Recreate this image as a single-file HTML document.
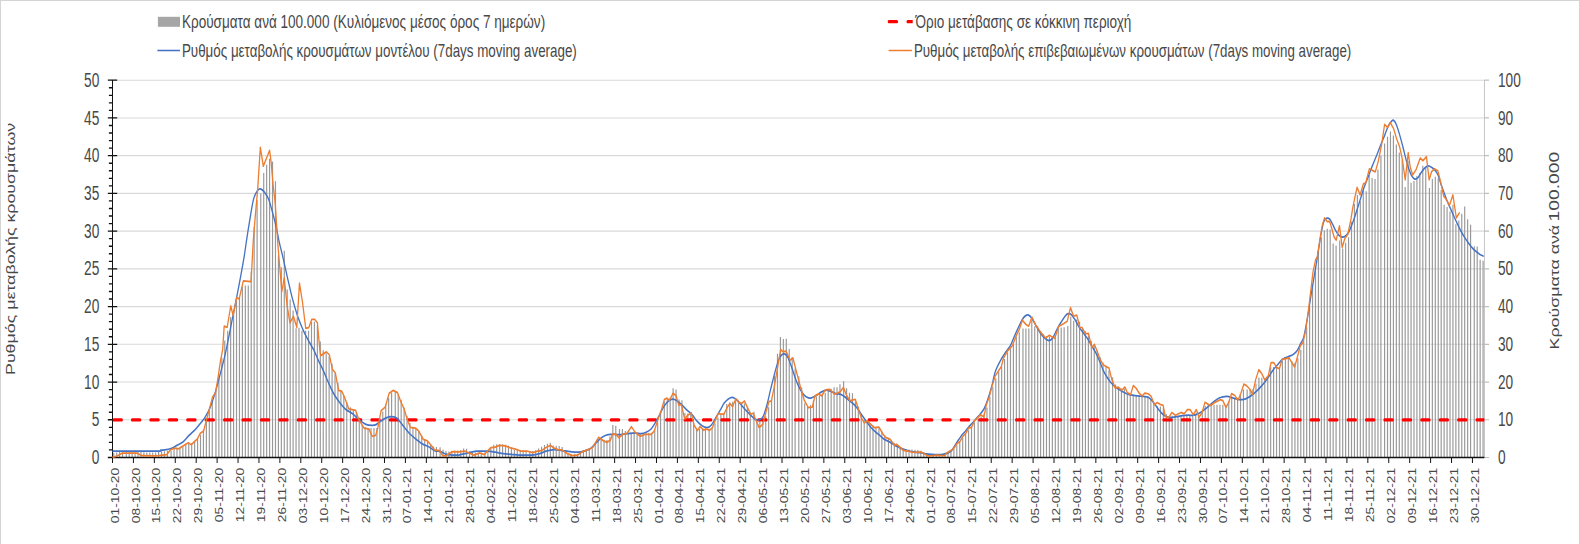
<!DOCTYPE html>
<html><head><meta charset="utf-8"><title>chart</title>
<style>html,body{margin:0;padding:0;background:#fff;}body{width:1579px;height:544px;overflow:hidden;font-family:"Liberation Sans",sans-serif;}svg{display:block;}</style>
</head><body>
<svg width="1579" height="544" viewBox="0 0 1579 544">
<rect x="0" y="0" width="1579" height="544" fill="#fff"/>
<rect x="0" y="0" width="1579" height="1" fill="#d4d4d4"/>
<rect x="0" y="0" width="1" height="544" fill="#d4d4d4"/>
<path d="M112.5 419.77H1484.4M112.5 382.04H1484.4M112.5 344.31H1484.4M112.5 306.58H1484.4M112.5 268.85H1484.4M112.5 231.12H1484.4M112.5 193.39H1484.4M112.5 155.66H1484.4M112.5 117.93H1484.4M112.5 80.20H1484.4" stroke="#d9d9d9" stroke-width="1.1" fill="none"/>
<path transform="scale(0.735,1)" d="M154 457.5V452.8h1.58V457.5zM158 457.5V452.4h1.58V457.5zM162 457.5V452.0h1.58V457.5zM166 457.5V451.7h1.58V457.5zM171 457.5V451.3h1.58V457.5zM175 457.5V451.0h1.58V457.5zM179 457.5V450.9h1.58V457.5zM183 457.5V450.8h1.58V457.5zM187 457.5V451.1h1.58V457.5zM191 457.5V451.8h1.58V457.5zM195 457.5V452.3h1.58V457.5zM199 457.5V452.4h1.58V457.5zM203 457.5V452.5h1.58V457.5zM207 457.5V452.5h1.58V457.5zM211 457.5V452.4h1.58V457.5zM215 457.5V452.0h1.58V457.5zM219 457.5V451.7h1.58V457.5zM223 457.5V451.2h1.58V457.5zM227 457.5V450.7h1.58V457.5zM232 457.5V451.0h1.58V457.5zM236 457.5V449.0h1.58V457.5zM240 457.5V448.5h1.58V457.5zM244 457.5V447.9h1.58V457.5zM248 457.5V446.5h1.58V457.5zM252 457.5V444.7h1.58V457.5zM256 457.5V443.9h1.58V457.5zM260 457.5V443.3h1.58V457.5zM264 457.5V442.0h1.58V457.5zM268 457.5V438.5h1.58V457.5zM272 457.5V434.8h1.58V457.5zM276 457.5V429.5h1.58V457.5zM280 457.5V421.7h1.58V457.5zM284 457.5V410.7h1.58V457.5zM288 457.5V400.9h1.58V457.5zM293 457.5V390.9h1.58V457.5zM297 457.5V377.3h1.58V457.5zM301 457.5V357.5h1.58V457.5zM305 457.5V340.5h1.58V457.5zM309 457.5V330.7h1.58V457.5zM313 457.5V317.1h1.58V457.5zM317 457.5V311.9h1.58V457.5zM321 457.5V302.1h1.58V457.5zM325 457.5V296.8h1.58V457.5zM329 457.5V286.5h1.58V457.5zM333 457.5V285.5h1.58V457.5zM337 457.5V285.5h1.58V457.5zM341 457.5V271.6h1.58V457.5zM345 457.5V227.3h1.58V457.5zM349 457.5V200.2h1.58V457.5zM354 457.5V193.4h1.58V457.5zM358 457.5V172.9h1.58V457.5zM362 457.5V164.8h1.58V457.5zM366 457.5V158.8h1.58V457.5zM370 457.5V161.4h1.58V457.5zM374 457.5V181.3h1.58V457.5zM378 457.5V255.3h1.58V457.5zM382 457.5V267.2h1.58V457.5zM386 457.5V250.7h1.58V457.5zM390 457.5V289.6h1.58V457.5zM394 457.5V299.4h1.58V457.5zM398 457.5V310.4h1.58V457.5zM402 457.5V328.2h1.58V457.5zM406 457.5V327.7h1.58V457.5zM410 457.5V330.7h1.58V457.5zM415 457.5V330.7h1.58V457.5zM419 457.5V330.7h1.58V457.5zM423 457.5V321.7h1.58V457.5zM427 457.5V321.7h1.58V457.5zM431 457.5V325.4h1.58V457.5zM435 457.5V341.4h1.58V457.5zM439 457.5V350.3h1.58V457.5zM443 457.5V353.4h1.58V457.5zM447 457.5V356.3h1.58V457.5zM451 457.5V363.7h1.58V457.5zM455 457.5V373.4h1.58V457.5zM459 457.5V382.7h1.58V457.5zM463 457.5V390.3h1.58V457.5zM467 457.5V395.6h1.58V457.5zM471 457.5V402.2h1.58V457.5zM476 457.5V407.3h1.58V457.5zM480 457.5V409.6h1.58V457.5zM484 457.5V412.3h1.58V457.5zM488 457.5V417.4h1.58V457.5zM492 457.5V425.1h1.58V457.5zM496 457.5V427.1h1.58V457.5zM500 457.5V428.1h1.58V457.5zM504 457.5V428.1h1.58V457.5zM508 457.5V428.1h1.58V457.5zM512 457.5V428.1h1.58V457.5zM516 457.5V422.8h1.58V457.5zM520 457.5V411.5h1.58V457.5zM524 457.5V404.6h1.58V457.5zM528 457.5V398.0h1.58V457.5zM532 457.5V392.6h1.58V457.5zM537 457.5V391.5h1.58V457.5zM541 457.5V394.2h1.58V457.5zM545 457.5V399.8h1.58V457.5zM549 457.5V407.4h1.58V457.5zM553 457.5V415.7h1.58V457.5zM557 457.5V423.1h1.58V457.5zM561 457.5V427.0h1.58V457.5zM565 457.5V428.6h1.58V457.5zM569 457.5V431.2h1.58V457.5zM573 457.5V435.4h1.58V457.5zM577 457.5V438.9h1.58V457.5zM581 457.5V441.4h1.58V457.5zM585 457.5V444.2h1.58V457.5zM589 457.5V446.4h1.58V457.5zM593 457.5V446.9h1.58V457.5zM598 457.5V447.3h1.58V457.5zM602 457.5V449.6h1.58V457.5zM606 457.5V451.0h1.58V457.5zM610 457.5V451.6h1.58V457.5zM614 457.5V451.0h1.58V457.5zM618 457.5V450.6h1.58V457.5zM622 457.5V450.5h1.58V457.5zM626 457.5V450.3h1.58V457.5zM630 457.5V448.4h1.58V457.5zM634 457.5V448.8h1.58V457.5zM638 457.5V451.5h1.58V457.5zM642 457.5V452.2h1.58V457.5zM646 457.5V452.6h1.58V457.5zM650 457.5V452.6h1.58V457.5zM654 457.5V452.6h1.58V457.5zM659 457.5V452.6h1.58V457.5zM663 457.5V450.5h1.58V457.5zM667 457.5V447.2h1.58V457.5zM671 457.5V444.7h1.58V457.5zM675 457.5V444.3h1.58V457.5zM679 457.5V443.9h1.58V457.5zM683 457.5V444.3h1.58V457.5zM687 457.5V444.7h1.58V457.5zM691 457.5V445.7h1.58V457.5zM695 457.5V447.4h1.58V457.5zM699 457.5V450.0h1.58V457.5zM703 457.5V450.3h1.58V457.5zM707 457.5V450.6h1.58V457.5zM711 457.5V450.8h1.58V457.5zM715 457.5V450.9h1.58V457.5zM720 457.5V450.9h1.58V457.5zM724 457.5V451.0h1.58V457.5zM728 457.5V450.2h1.58V457.5zM732 457.5V448.4h1.58V457.5zM736 457.5V446.7h1.58V457.5zM740 457.5V445.1h1.58V457.5zM744 457.5V443.7h1.58V457.5zM748 457.5V442.7h1.58V457.5zM752 457.5V445.4h1.58V457.5zM756 457.5V445.7h1.58V457.5zM760 457.5V446.0h1.58V457.5zM764 457.5V447.1h1.58V457.5zM768 457.5V451.5h1.58V457.5zM772 457.5V453.7h1.58V457.5zM776 457.5V453.7h1.58V457.5zM781 457.5V453.7h1.58V457.5zM785 457.5V453.7h1.58V457.5zM789 457.5V452.2h1.58V457.5zM793 457.5V450.3h1.58V457.5zM797 457.5V449.6h1.58V457.5zM801 457.5V449.0h1.58V457.5zM805 457.5V448.4h1.58V457.5zM809 457.5V443.2h1.58V457.5zM813 457.5V439.4h1.58V457.5zM817 457.5V439.6h1.58V457.5zM821 457.5V439.8h1.58V457.5zM825 457.5V440.0h1.58V457.5zM829 457.5V436.4h1.58V457.5zM833 457.5V425.1h1.58V457.5zM837 457.5V425.8h1.58V457.5zM842 457.5V429.1h1.58V457.5zM846 457.5V429.1h1.58V457.5zM850 457.5V430.9h1.58V457.5zM854 457.5V432.7h1.58V457.5zM858 457.5V432.9h1.58V457.5zM862 457.5V433.1h1.58V457.5zM866 457.5V433.3h1.58V457.5zM870 457.5V433.3h1.58V457.5zM874 457.5V433.1h1.58V457.5zM878 457.5V433.0h1.58V457.5zM882 457.5V432.8h1.58V457.5zM886 457.5V432.7h1.58V457.5zM890 457.5V429.3h1.58V457.5zM894 457.5V422.1h1.58V457.5zM898 457.5V413.1h1.58V457.5zM903 457.5V400.9h1.58V457.5zM907 457.5V398.6h1.58V457.5zM911 457.5V397.6h1.58V457.5zM915 457.5V388.2h1.58V457.5zM919 457.5V389.6h1.58V457.5zM923 457.5V399.4h1.58V457.5zM927 457.5V400.2h1.58V457.5zM931 457.5V413.0h1.58V457.5zM935 457.5V413.4h1.58V457.5zM939 457.5V413.7h1.58V457.5zM943 457.5V422.8h1.58V457.5zM947 457.5V428.8h1.58V457.5zM951 457.5V428.8h1.58V457.5zM955 457.5V428.8h1.58V457.5zM959 457.5V428.8h1.58V457.5zM964 457.5V428.8h1.58V457.5zM968 457.5V428.0h1.58V457.5zM972 457.5V423.3h1.58V457.5zM976 457.5V417.5h1.58V457.5zM980 457.5V414.5h1.58V457.5zM984 457.5V413.1h1.58V457.5zM988 457.5V403.9h1.58V457.5zM992 457.5V402.4h1.58V457.5zM996 457.5V401.7h1.58V457.5zM1000 457.5V400.9h1.58V457.5zM1004 457.5V401.8h1.58V457.5zM1008 457.5V402.6h1.58V457.5zM1012 457.5V403.5h1.58V457.5zM1016 457.5V407.1h1.58V457.5zM1020 457.5V411.8h1.58V457.5zM1025 457.5V411.8h1.58V457.5zM1029 457.5V418.9h1.58V457.5zM1033 457.5V421.3h1.58V457.5zM1037 457.5V420.1h1.58V457.5zM1041 457.5V416.2h1.58V457.5zM1045 457.5V407.3h1.58V457.5zM1049 457.5V398.9h1.58V457.5zM1053 457.5V376.0h1.58V457.5zM1057 457.5V353.7h1.58V457.5zM1061 457.5V337.0h1.58V457.5zM1065 457.5V338.9h1.58V457.5zM1069 457.5V338.8h1.58V457.5zM1073 457.5V348.9h1.58V457.5zM1077 457.5V357.1h1.58V457.5zM1081 457.5V368.5h1.58V457.5zM1086 457.5V376.3h1.58V457.5zM1090 457.5V387.4h1.58V457.5zM1094 457.5V403.2h1.58V457.5zM1098 457.5V406.2h1.58V457.5zM1102 457.5V405.0h1.58V457.5zM1106 457.5V400.3h1.58V457.5zM1110 457.5V396.6h1.58V457.5zM1114 457.5V395.6h1.58V457.5zM1118 457.5V394.6h1.58V457.5zM1122 457.5V393.0h1.58V457.5zM1126 457.5V390.7h1.58V457.5zM1130 457.5V388.7h1.58V457.5zM1134 457.5V387.3h1.58V457.5zM1138 457.5V387.3h1.58V457.5zM1142 457.5V384.3h1.58V457.5zM1147 457.5V381.3h1.58V457.5zM1151 457.5V388.3h1.58V457.5zM1155 457.5V392.8h1.58V457.5zM1159 457.5V393.3h1.58V457.5zM1163 457.5V401.4h1.58V457.5zM1167 457.5V406.5h1.58V457.5zM1171 457.5V414.4h1.58V457.5zM1175 457.5V419.9h1.58V457.5zM1179 457.5V421.9h1.58V457.5zM1183 457.5V423.2h1.58V457.5zM1187 457.5V425.6h1.58V457.5zM1191 457.5V427.0h1.58V457.5zM1195 457.5V428.4h1.58V457.5zM1199 457.5V431.3h1.58V457.5zM1203 457.5V435.3h1.58V457.5zM1208 457.5V437.9h1.58V457.5zM1212 457.5V440.3h1.58V457.5zM1216 457.5V442.8h1.58V457.5zM1220 457.5V445.0h1.58V457.5zM1224 457.5V447.7h1.58V457.5zM1228 457.5V449.2h1.58V457.5zM1232 457.5V449.3h1.58V457.5zM1236 457.5V449.5h1.58V457.5zM1240 457.5V449.6h1.58V457.5zM1244 457.5V449.7h1.58V457.5zM1248 457.5V449.9h1.58V457.5zM1252 457.5V450.7h1.58V457.5zM1256 457.5V452.2h1.58V457.5zM1260 457.5V454.0h1.58V457.5zM1264 457.5V454.0h1.58V457.5zM1269 457.5V454.0h1.58V457.5zM1273 457.5V454.0h1.58V457.5zM1277 457.5V454.0h1.58V457.5zM1281 457.5V454.0h1.58V457.5zM1285 457.5V453.1h1.58V457.5zM1289 457.5V453.1h1.58V457.5zM1293 457.5V450.9h1.58V457.5zM1297 457.5V448.4h1.58V457.5zM1301 457.5V445.3h1.58V457.5zM1305 457.5V441.7h1.58V457.5zM1309 457.5V438.0h1.58V457.5zM1313 457.5V433.8h1.58V457.5zM1317 457.5V430.2h1.58V457.5zM1321 457.5V426.4h1.58V457.5zM1325 457.5V422.6h1.58V457.5zM1330 457.5V418.5h1.58V457.5zM1334 457.5V416.5h1.58V457.5zM1338 457.5V413.6h1.58V457.5zM1342 457.5V407.4h1.58V457.5zM1346 457.5V397.1h1.58V457.5zM1350 457.5V387.1h1.58V457.5zM1354 457.5V378.2h1.58V457.5zM1358 457.5V372.0h1.58V457.5zM1362 457.5V365.7h1.58V457.5zM1366 457.5V358.9h1.58V457.5zM1370 457.5V352.6h1.58V457.5zM1374 457.5V348.4h1.58V457.5zM1378 457.5V343.4h1.58V457.5zM1382 457.5V337.1h1.58V457.5zM1386 457.5V332.2h1.58V457.5zM1391 457.5V328.5h1.58V457.5zM1395 457.5V328.5h1.58V457.5zM1399 457.5V328.5h1.58V457.5zM1403 457.5V320.2h1.58V457.5zM1407 457.5V326.2h1.58V457.5zM1411 457.5V326.3h1.58V457.5zM1415 457.5V330.8h1.58V457.5zM1419 457.5V334.6h1.58V457.5zM1423 457.5V336.3h1.58V457.5zM1427 457.5V336.6h1.58V457.5zM1431 457.5V336.8h1.58V457.5zM1435 457.5V335.2h1.58V457.5zM1439 457.5V328.8h1.58V457.5zM1443 457.5V327.6h1.58V457.5zM1447 457.5V327.2h1.58V457.5zM1452 457.5V325.9h1.58V457.5zM1456 457.5V316.8h1.58V457.5zM1460 457.5V320.8h1.58V457.5zM1464 457.5V319.4h1.58V457.5zM1468 457.5V321.8h1.58V457.5zM1472 457.5V327.8h1.58V457.5zM1476 457.5V331.2h1.58V457.5zM1480 457.5V335.5h1.58V457.5zM1484 457.5V340.9h1.58V457.5zM1488 457.5V346.1h1.58V457.5zM1492 457.5V350.4h1.58V457.5zM1496 457.5V357.1h1.58V457.5zM1500 457.5V362.8h1.58V457.5zM1504 457.5V366.0h1.58V457.5zM1508 457.5V370.2h1.58V457.5zM1513 457.5V377.2h1.58V457.5zM1517 457.5V384.4h1.58V457.5zM1521 457.5V387.7h1.58V457.5zM1525 457.5V388.6h1.58V457.5zM1529 457.5V389.1h1.58V457.5zM1533 457.5V394.3h1.58V457.5zM1537 457.5V394.5h1.58V457.5zM1541 457.5V394.8h1.58V457.5zM1545 457.5V395.1h1.58V457.5zM1549 457.5V395.4h1.58V457.5zM1553 457.5V395.7h1.58V457.5zM1557 457.5V396.0h1.58V457.5zM1561 457.5V396.2h1.58V457.5zM1565 457.5V398.6h1.58V457.5zM1569 457.5V403.2h1.58V457.5zM1574 457.5V406.2h1.58V457.5zM1578 457.5V406.6h1.58V457.5zM1582 457.5V407.6h1.58V457.5zM1586 457.5V414.0h1.58V457.5zM1590 457.5V416.0h1.58V457.5zM1594 457.5V415.8h1.58V457.5zM1598 457.5V415.7h1.58V457.5zM1602 457.5V415.6h1.58V457.5zM1606 457.5V415.4h1.58V457.5zM1610 457.5V415.3h1.58V457.5zM1614 457.5V415.1h1.58V457.5zM1618 457.5V415.0h1.58V457.5zM1622 457.5V414.8h1.58V457.5zM1626 457.5V414.7h1.58V457.5zM1630 457.5V414.6h1.58V457.5zM1635 457.5V411.5h1.58V457.5zM1639 457.5V406.1h1.58V457.5zM1643 457.5V405.1h1.58V457.5zM1647 457.5V404.7h1.58V457.5zM1651 457.5V404.7h1.58V457.5zM1655 457.5V404.7h1.58V457.5zM1659 457.5V404.7h1.58V457.5zM1663 457.5V404.7h1.58V457.5zM1667 457.5V404.7h1.58V457.5zM1671 457.5V400.9h1.58V457.5zM1675 457.5V397.9h1.58V457.5zM1679 457.5V397.9h1.58V457.5zM1683 457.5V397.9h1.58V457.5zM1687 457.5V394.9h1.58V457.5zM1691 457.5V389.6h1.58V457.5zM1696 457.5V389.6h1.58V457.5zM1700 457.5V389.6h1.58V457.5zM1704 457.5V389.0h1.58V457.5zM1708 457.5V383.5h1.58V457.5zM1712 457.5V377.5h1.58V457.5zM1716 457.5V377.8h1.58V457.5zM1720 457.5V378.0h1.58V457.5zM1724 457.5V378.3h1.58V457.5zM1728 457.5V366.9h1.58V457.5zM1732 457.5V366.9h1.58V457.5zM1736 457.5V366.9h1.58V457.5zM1740 457.5V366.9h1.58V457.5zM1744 457.5V360.9h1.58V457.5zM1748 457.5V359.0h1.58V457.5zM1752 457.5V359.0h1.58V457.5zM1757 457.5V361.2h1.58V457.5zM1761 457.5V362.7h1.58V457.5zM1765 457.5V358.3h1.58V457.5zM1769 457.5V349.7h1.58V457.5zM1773 457.5V340.6h1.58V457.5zM1777 457.5V327.5h1.58V457.5zM1781 457.5V307.2h1.58V457.5zM1785 457.5V284.4h1.58V457.5zM1789 457.5V266.3h1.58V457.5zM1793 457.5V251.3h1.58V457.5zM1797 457.5V237.2h1.58V457.5zM1801 457.5V230.2h1.58V457.5zM1805 457.5V228.8h1.58V457.5zM1809 457.5V229.6h1.58V457.5zM1813 457.5V243.5h1.58V457.5zM1817 457.5V245.5h1.58V457.5zM1822 457.5V240.4h1.58V457.5zM1826 457.5V248.6h1.58V457.5zM1830 457.5V242.7h1.58V457.5zM1834 457.5V237.2h1.58V457.5zM1838 457.5V221.7h1.58V457.5zM1842 457.5V204.0h1.58V457.5zM1846 457.5V195.1h1.58V457.5zM1850 457.5V201.6h1.58V457.5zM1854 457.5V187.5h1.58V457.5zM1858 457.5V191.2h1.58V457.5zM1862 457.5V175.1h1.58V457.5zM1866 457.5V178.0h1.58V457.5zM1870 457.5V178.9h1.58V457.5zM1874 457.5V169.4h1.58V457.5zM1878 457.5V155.7h1.58V457.5zM1883 457.5V143.6h1.58V457.5zM1887 457.5V136.8h1.58V457.5zM1891 457.5V131.5h1.58V457.5zM1895 457.5V135.5h1.58V457.5zM1899 457.5V144.6h1.58V457.5zM1903 457.5V152.6h1.58V457.5zM1907 457.5V159.7h1.58V457.5zM1911 457.5V186.9h1.58V457.5zM1915 457.5V160.9h1.58V457.5zM1919 457.5V182.8h1.58V457.5zM1923 457.5V180.9h1.58V457.5zM1927 457.5V176.0h1.58V457.5zM1931 457.5V173.0h1.58V457.5zM1935 457.5V165.8h1.58V457.5zM1939 457.5V167.7h1.58V457.5zM1944 457.5V188.1h1.58V457.5zM1948 457.5V179.1h1.58V457.5zM1952 457.5V176.8h1.58V457.5zM1956 457.5V178.3h1.58V457.5zM1960 457.5V189.9h1.58V457.5zM1964 457.5V204.7h1.58V457.5zM1968 457.5V207.0h1.58V457.5zM1972 457.5V211.5h1.58V457.5zM1976 457.5V204.7h1.58V457.5zM1980 457.5V224.3h1.58V457.5zM1984 457.5V220.6h1.58V457.5zM1988 457.5V213.8h1.58V457.5zM1992 457.5V206.5h1.58V457.5zM1996 457.5V219.3h1.58V457.5zM2000 457.5V224.8h1.58V457.5zM2005 457.5V246.2h1.58V457.5zM2009 457.5V246.6h1.58V457.5zM2013 457.5V259.8h1.58V457.5zM2017 457.5V260.8h1.58V457.5z" fill="#989898"/>
<g transform="scale(0.74,1)">
<path d="M2005.95 80.20V457.50M2005.95 457.50h6.22M2005.95 419.77h6.22M2005.95 382.04h6.22M2005.95 344.31h6.22M2005.95 306.58h6.22M2005.95 268.85h6.22M2005.95 231.12h6.22M2005.95 193.39h6.22M2005.95 155.66h6.22M2005.95 117.93h6.22M2005.95 80.20h6.22" stroke="#bfbfbf" stroke-width="1.2" fill="none"/>
<path d="M152.03 80.20V457.50M145.68 457.50H158.38M147.16 449.95H152.03M147.16 442.41H152.03M147.16 434.86H152.03M147.16 427.32H152.03M145.68 419.77H158.38M147.16 412.22H152.03M147.16 404.68H152.03M147.16 397.13H152.03M147.16 389.59H152.03M145.68 382.04H158.38M147.16 374.49H152.03M147.16 366.95H152.03M147.16 359.40H152.03M147.16 351.86H152.03M145.68 344.31H158.38M147.16 336.76H152.03M147.16 329.22H152.03M147.16 321.67H152.03M147.16 314.13H152.03M145.68 306.58H158.38M147.16 299.03H152.03M147.16 291.49H152.03M147.16 283.94H152.03M147.16 276.40H152.03M145.68 268.85H158.38M147.16 261.30H152.03M147.16 253.76H152.03M147.16 246.21H152.03M147.16 238.67H152.03M145.68 231.12H158.38M147.16 223.57H152.03M147.16 216.03H152.03M147.16 208.48H152.03M147.16 200.94H152.03M145.68 193.39H158.38M147.16 185.84H152.03M147.16 178.30H152.03M147.16 170.75H152.03M147.16 163.21H152.03M145.68 155.66H158.38M147.16 148.11H152.03M147.16 140.57H152.03M147.16 133.02H152.03M147.16 125.48H152.03M145.68 117.93H158.38M147.16 110.38H152.03M147.16 102.84H152.03M147.16 95.29H152.03M147.16 87.75H152.03M145.68 80.20H158.38M152.03 457.50H2005.95M152.03 457.50v5.4M180.30 457.50v5.4M208.57 457.50v5.4M236.85 457.50v5.4M265.12 457.50v5.4M293.39 457.50v5.4M321.67 457.50v5.4M349.94 457.50v5.4M378.21 457.50v5.4M406.49 457.50v5.4M434.76 457.50v5.4M463.03 457.50v5.4M491.31 457.50v5.4M519.58 457.50v5.4M547.85 457.50v5.4M576.13 457.50v5.4M604.40 457.50v5.4M632.67 457.50v5.4M660.95 457.50v5.4M689.22 457.50v5.4M717.49 457.50v5.4M745.77 457.50v5.4M774.04 457.50v5.4M802.31 457.50v5.4M830.59 457.50v5.4M858.86 457.50v5.4M887.13 457.50v5.4M915.41 457.50v5.4M943.68 457.50v5.4M971.95 457.50v5.4M1000.23 457.50v5.4M1028.50 457.50v5.4M1056.77 457.50v5.4M1085.05 457.50v5.4M1113.32 457.50v5.4M1141.59 457.50v5.4M1169.86 457.50v5.4M1198.14 457.50v5.4M1226.41 457.50v5.4M1254.68 457.50v5.4M1282.96 457.50v5.4M1311.23 457.50v5.4M1339.50 457.50v5.4M1367.78 457.50v5.4M1396.05 457.50v5.4M1424.32 457.50v5.4M1452.60 457.50v5.4M1480.87 457.50v5.4M1509.14 457.50v5.4M1537.42 457.50v5.4M1565.69 457.50v5.4M1593.96 457.50v5.4M1622.24 457.50v5.4M1650.51 457.50v5.4M1678.78 457.50v5.4M1707.06 457.50v5.4M1735.33 457.50v5.4M1763.60 457.50v5.4M1791.88 457.50v5.4M1820.15 457.50v5.4M1848.42 457.50v5.4M1876.70 457.50v5.4M1904.97 457.50v5.4M1933.24 457.50v5.4M1961.52 457.50v5.4M1989.79 457.50v5.4" stroke="#111111" stroke-width="1.33" fill="none"/>
<path d="M153.68 419.97H2005.95" stroke="#ff0000" stroke-width="3.3" stroke-linecap="round" stroke-dasharray="10.75 14.14" fill="none" clip-path="url(#pc)"/>
<path d="M152.70 451.16C162.53 451.16 200.90 451.32 211.67 451.16C222.43 451.00 215.50 450.38 217.32 450.18C219.14 449.98 220.28 450.23 222.57 449.95C224.86 449.68 228.29 449.27 231.05 448.52C233.81 447.77 236.37 446.55 239.13 445.43C241.89 444.31 244.85 443.50 247.61 441.80C250.37 440.11 252.99 437.28 255.68 435.24C258.38 433.20 261.00 431.78 263.76 429.58C266.52 427.38 269.95 424.17 272.24 422.03C274.53 419.90 275.47 419.27 277.49 416.75C279.51 414.24 282.07 411.15 284.36 406.94C286.65 402.73 289.14 396.63 291.22 391.47C293.31 386.32 295.06 381.10 296.88 376.00C298.69 370.91 300.65 365.31 302.13 360.91C303.61 356.51 303.74 356.76 305.76 349.59C307.78 342.42 311.42 328.46 314.24 317.90C317.07 307.33 320.17 296.14 322.72 286.21C325.28 276.27 327.84 265.96 329.59 258.29C331.34 250.61 331.95 246.34 333.22 240.18C334.50 234.01 335.71 228.10 337.26 221.31C338.81 214.52 340.70 204.58 342.51 199.43C344.33 194.27 346.55 192.13 348.17 190.37C349.78 188.61 350.59 188.49 352.21 188.86C353.82 189.24 356.04 190.87 357.86 192.64C359.68 194.40 361.29 195.91 363.11 199.43C364.93 202.95 366.95 208.73 368.76 213.76C370.58 218.79 372.60 224.96 374.01 229.61C375.43 234.26 375.97 237.41 377.24 241.68C378.52 245.96 379.80 249.23 381.69 255.27C383.57 261.30 386.33 270.74 388.55 277.91C390.77 285.07 392.73 291.87 395.01 298.28C397.30 304.69 399.93 311.23 402.28 316.39C404.64 321.55 406.93 325.44 409.15 329.22C411.37 332.99 413.19 335.63 415.61 339.03C418.03 342.42 421.26 346.07 423.69 349.59C426.11 353.11 427.93 356.64 430.15 360.16C432.37 363.68 434.79 367.07 437.01 370.72C439.24 374.37 441.19 378.27 443.48 382.04C445.76 385.81 448.19 389.96 450.74 393.36C453.30 396.75 456.13 399.77 458.82 402.41C461.51 405.06 463.94 407.32 466.90 409.21C469.86 411.09 473.56 411.97 476.59 413.73C479.62 415.49 482.11 418.01 485.07 419.77C488.03 421.53 491.40 423.35 494.36 424.30C497.32 425.24 500.55 425.37 502.84 425.43C505.13 425.49 506.07 425.43 508.09 424.67C510.11 423.92 512.67 422.03 514.96 420.90C517.25 419.77 519.53 418.61 521.82 417.88C524.11 417.15 526.40 416.53 528.69 416.53C530.98 416.53 533.60 417.03 535.55 417.88C537.51 418.74 538.45 419.96 540.40 421.66C542.35 423.35 544.98 426.00 547.27 428.07C549.55 430.15 551.57 432.22 554.13 434.11C556.69 435.99 559.85 437.75 562.61 439.39C565.37 441.02 568.00 442.73 570.69 443.92C573.38 445.10 576.01 445.38 578.77 446.48C581.53 447.59 584.49 449.70 587.25 450.56C590.01 451.41 592.83 451.04 595.32 451.61C597.81 452.19 599.43 453.45 602.19 454.03C604.95 454.61 608.92 454.91 611.88 455.09C614.84 455.26 617.27 455.32 619.96 455.09C622.65 454.85 625.28 454.13 628.04 453.65C630.80 453.17 633.76 452.63 636.52 452.22C639.28 451.80 640.96 451.34 644.59 451.16C648.23 450.99 654.22 450.99 658.32 451.16C662.43 451.34 665.59 451.80 669.23 452.22C672.86 452.63 676.50 453.31 680.13 453.65C683.77 453.99 687.40 454.02 691.04 454.26C694.67 454.49 697.36 454.95 701.94 455.09C706.52 455.22 713.92 455.32 718.50 455.09C723.08 454.85 726.17 454.31 729.40 453.65C732.63 453.00 734.65 451.84 737.88 451.16C741.11 450.48 745.15 449.68 748.79 449.58C752.42 449.48 756.06 450.22 759.69 450.56C763.33 450.90 766.96 451.34 770.60 451.61C774.23 451.89 778.34 452.32 781.50 452.22C784.66 452.12 786.82 451.63 789.58 451.01C792.34 450.39 795.50 449.78 798.06 448.52C800.61 447.26 802.63 445.16 804.92 443.46C807.21 441.77 809.50 439.70 811.79 438.33C814.08 436.96 816.37 435.92 818.65 435.24C820.94 434.56 822.56 434.36 825.52 434.26C828.48 434.16 832.79 434.74 836.42 434.64C840.06 434.54 843.69 433.96 847.33 433.65C850.96 433.35 855.07 432.82 858.23 432.82C861.39 432.82 863.82 433.76 866.31 433.65C868.80 433.55 870.89 433.03 873.17 432.22C875.46 431.42 877.89 430.52 880.04 428.83C882.19 427.13 884.01 424.67 886.10 422.03C888.18 419.39 890.61 415.70 892.56 412.98C894.51 410.26 895.99 407.75 897.81 405.73C899.63 403.72 901.58 402.00 903.46 400.90C905.35 399.81 907.30 399.22 909.12 399.17C910.93 399.12 912.35 399.69 914.37 400.60C916.39 401.52 918.94 403.12 921.23 404.68C923.52 406.24 925.81 408.33 928.10 409.96C930.39 411.60 932.67 412.65 934.96 414.49C937.25 416.32 939.54 419.09 941.83 420.98C944.12 422.86 946.41 424.69 948.69 425.81C950.98 426.93 953.47 427.82 955.56 427.69C957.65 427.57 959.33 426.62 961.21 425.05C963.10 423.48 964.85 420.78 966.87 418.26C968.89 415.75 971.38 412.48 973.33 409.96C975.28 407.44 976.76 405.00 978.58 403.17C980.40 401.33 982.35 399.91 984.23 398.94C986.12 397.97 988.07 397.26 989.89 397.36C991.70 397.46 993.32 398.43 995.14 399.55C996.95 400.67 998.70 402.30 1000.79 404.07C1002.88 405.85 1005.37 408.33 1007.66 410.19C1009.94 412.05 1012.30 413.71 1014.52 415.24C1016.74 416.78 1018.96 418.64 1020.98 419.39C1023.00 420.15 1024.89 420.29 1026.64 419.77C1028.39 419.25 1029.87 418.75 1031.48 416.30C1033.10 413.85 1034.65 409.63 1036.33 405.06C1038.01 400.48 1039.76 394.30 1041.58 388.83C1043.40 383.36 1045.42 377.14 1047.23 372.23C1049.05 367.33 1050.87 362.36 1052.48 359.40C1054.10 356.45 1055.51 355.38 1056.93 354.50C1058.34 353.62 1059.62 353.55 1060.96 354.12C1062.31 354.69 1063.39 355.38 1065.00 357.89C1066.62 360.41 1068.84 365.44 1070.66 369.21C1072.47 372.98 1074.09 377.10 1075.91 380.53C1077.72 383.96 1079.74 387.35 1081.56 389.81C1083.38 392.28 1084.99 393.98 1086.81 395.32C1088.63 396.67 1090.85 397.46 1092.46 397.89C1094.08 398.31 1094.69 398.31 1096.50 397.89C1098.32 397.46 1101.08 396.33 1103.37 395.32C1105.66 394.31 1107.95 392.71 1110.23 391.85C1112.52 390.99 1114.81 390.19 1117.10 390.19C1119.39 390.19 1121.68 391.23 1123.97 391.85C1126.25 392.47 1128.95 393.51 1130.83 393.89C1132.72 394.26 1133.59 393.70 1135.27 394.11C1136.96 394.53 1138.98 395.37 1140.93 396.38C1142.88 397.38 1144.97 398.92 1146.98 400.15C1149.00 401.38 1151.02 402.31 1153.04 403.77C1155.06 405.23 1157.08 406.94 1159.10 408.90C1161.12 410.87 1163.21 413.44 1165.16 415.54C1167.11 417.64 1168.86 419.54 1170.81 421.51C1172.76 423.47 1174.85 425.59 1176.87 427.32C1178.89 429.04 1180.91 430.49 1182.93 431.84C1184.95 433.20 1187.03 434.25 1188.99 435.47C1190.94 436.69 1192.35 438.06 1194.64 439.16C1196.93 440.27 1200.36 441.11 1202.72 442.11C1205.07 443.10 1206.75 444.26 1208.77 445.12C1210.79 445.99 1212.88 446.63 1214.83 447.31C1216.78 447.99 1218.20 448.58 1220.49 449.20C1222.77 449.82 1225.87 450.53 1228.56 451.01C1231.26 451.49 1234.01 451.78 1236.64 452.07C1239.26 452.36 1241.69 452.43 1244.31 452.75C1246.94 453.06 1249.70 453.68 1252.39 453.95C1255.08 454.23 1257.84 454.28 1260.47 454.41C1263.09 454.53 1265.85 454.71 1268.14 454.71C1270.43 454.71 1272.18 454.66 1274.20 454.41C1276.22 454.15 1278.24 453.89 1280.26 453.20C1282.27 452.51 1284.36 451.85 1286.31 450.26C1288.27 448.66 1290.35 445.46 1291.97 443.62C1293.58 441.77 1294.66 440.62 1296.01 439.16C1297.35 437.70 1298.70 436.13 1300.04 434.86C1301.39 433.59 1302.60 432.84 1304.08 431.54C1305.56 430.25 1307.25 428.52 1308.93 427.09C1310.61 425.66 1312.50 424.32 1314.18 422.94C1315.86 421.56 1317.41 420.15 1319.03 418.79C1320.64 417.43 1322.19 416.31 1323.87 414.79C1325.55 413.27 1327.64 411.49 1329.12 409.66C1330.60 407.82 1331.48 406.24 1332.76 403.77C1334.04 401.31 1335.45 398.08 1336.79 394.87C1338.14 391.66 1339.49 388.35 1340.83 384.53C1342.18 380.71 1343.05 375.86 1344.87 371.93C1346.69 367.99 1349.45 364.13 1351.74 360.91C1354.03 357.69 1356.31 355.18 1358.60 352.61C1360.89 350.04 1363.45 348.22 1365.47 345.52C1367.49 342.81 1368.90 339.43 1370.72 336.39C1372.54 333.34 1374.55 330.09 1376.37 327.26C1378.19 324.43 1380.01 321.35 1381.62 319.41C1383.24 317.47 1384.65 316.35 1386.06 315.64C1387.48 314.92 1388.76 314.69 1390.10 315.11C1391.45 315.52 1392.53 316.40 1394.14 318.13C1395.76 319.85 1397.78 322.90 1399.80 325.44C1401.81 327.99 1404.24 331.23 1406.26 333.37C1408.28 335.51 1410.03 337.08 1411.91 338.27C1413.80 339.47 1415.75 340.66 1417.57 340.54C1419.38 340.41 1421.00 339.41 1422.82 337.52C1424.63 335.63 1426.65 331.73 1428.47 329.22C1430.29 326.70 1431.90 324.61 1433.72 322.43C1435.54 320.24 1437.76 317.55 1439.37 316.09C1440.99 314.63 1442.07 313.94 1443.41 313.67C1444.76 313.41 1445.83 313.42 1447.45 314.50C1449.07 315.58 1451.29 318.04 1453.10 320.16C1454.92 322.29 1456.54 325.12 1458.35 327.26C1460.17 329.39 1462.19 331.15 1464.01 332.99C1465.83 334.83 1467.44 336.19 1469.26 338.27C1471.08 340.36 1473.03 343.13 1474.91 345.52C1476.80 347.91 1478.61 349.79 1480.57 352.61C1482.52 355.43 1484.87 359.40 1486.62 362.42C1488.37 365.44 1489.52 368.28 1491.07 370.72C1492.61 373.16 1494.16 375.05 1495.91 377.06C1497.66 379.07 1499.68 381.13 1501.57 382.79C1503.45 384.45 1505.34 385.85 1507.22 387.02C1509.10 388.19 1510.99 388.94 1512.87 389.81C1514.76 390.68 1516.64 391.51 1518.53 392.23C1520.41 392.94 1522.30 393.65 1524.18 394.11C1526.07 394.58 1527.61 394.72 1529.84 395.02C1532.06 395.32 1534.95 395.69 1537.51 395.92C1540.07 396.16 1542.83 396.23 1545.18 396.45C1547.54 396.68 1549.76 396.63 1551.64 397.28C1553.53 397.94 1554.94 399.14 1556.49 400.38C1558.04 401.61 1559.38 403.14 1560.93 404.68C1562.48 406.21 1564.16 408.06 1565.78 409.58C1567.39 411.10 1569.21 412.74 1570.62 413.81C1572.04 414.88 1572.85 415.41 1574.26 416.00C1575.67 416.59 1577.36 417.13 1579.11 417.36C1580.86 417.58 1582.87 417.47 1584.76 417.36C1586.64 417.24 1588.26 416.95 1590.41 416.68C1592.57 416.40 1595.19 415.93 1597.68 415.70C1600.17 415.46 1602.80 415.32 1605.36 415.24C1607.91 415.17 1610.81 415.48 1613.03 415.24C1615.25 415.00 1616.80 414.44 1618.68 413.81C1620.57 413.18 1622.45 412.41 1624.34 411.47C1626.22 410.53 1628.11 409.28 1629.99 408.15C1631.88 407.02 1633.76 405.85 1635.64 404.68C1637.53 403.51 1639.41 402.20 1641.30 401.13C1643.18 400.06 1645.07 398.97 1646.95 398.26C1648.84 397.56 1650.72 397.21 1652.61 396.91C1654.49 396.60 1656.38 396.39 1658.26 396.45C1660.15 396.52 1662.03 396.91 1663.91 397.28C1665.80 397.66 1667.68 398.31 1669.57 398.72C1671.45 399.12 1673.34 399.58 1675.22 399.70C1677.11 399.81 1678.99 399.75 1680.88 399.40C1682.76 399.04 1684.65 398.34 1686.53 397.58C1688.41 396.83 1690.30 395.92 1692.18 394.87C1694.07 393.81 1695.95 392.55 1697.84 391.25C1699.72 389.94 1701.61 388.55 1703.49 387.02C1705.38 385.49 1707.26 383.81 1709.15 382.04C1711.03 380.27 1712.92 378.39 1714.80 376.38C1716.68 374.37 1718.57 371.85 1720.45 369.97C1722.34 368.08 1724.22 366.70 1726.11 365.06C1727.99 363.43 1730.01 361.35 1731.76 360.16C1733.51 358.96 1734.92 358.52 1736.61 357.89C1738.29 357.26 1740.04 356.95 1741.86 356.38C1743.68 355.82 1745.63 355.50 1747.51 354.50C1749.40 353.49 1751.48 352.17 1753.17 350.35C1754.85 348.52 1756.19 345.69 1757.61 343.56C1759.02 341.42 1760.37 340.74 1761.65 337.52C1762.93 334.30 1764.14 328.77 1765.28 324.24C1766.43 319.71 1767.23 316.19 1768.51 310.35C1769.79 304.52 1771.20 297.15 1772.95 289.22C1774.70 281.30 1777.06 271.62 1779.01 262.81C1780.96 254.01 1783.05 243.19 1784.67 236.40C1786.28 229.61 1787.36 225.08 1788.70 222.06C1790.05 219.05 1791.40 218.79 1792.74 218.29C1794.09 217.79 1795.44 218.04 1796.78 219.05C1798.13 220.05 1799.47 222.42 1800.82 224.33C1802.17 226.24 1803.45 228.71 1804.86 230.52C1806.27 232.33 1807.75 234.09 1809.30 235.19C1810.85 236.30 1812.60 237.08 1814.15 237.16C1815.70 237.23 1817.18 236.49 1818.59 235.65C1820.00 234.80 1821.21 233.99 1822.63 232.10C1824.04 230.21 1825.66 227.01 1827.07 224.33C1828.48 221.65 1829.83 218.79 1831.11 216.03C1832.39 213.26 1833.53 210.56 1834.74 207.73C1835.96 204.90 1836.90 202.52 1838.38 199.05C1839.86 195.58 1841.81 190.74 1843.63 186.90C1845.45 183.06 1847.46 179.56 1849.28 176.03C1851.10 172.51 1852.71 169.17 1854.53 165.77C1856.35 162.38 1858.37 159.03 1860.19 155.66C1862.00 152.29 1863.62 148.91 1865.44 145.55C1867.25 142.19 1869.27 138.86 1871.09 135.51C1872.91 132.17 1874.79 127.84 1876.34 125.48C1877.89 123.11 1879.23 122.18 1880.38 121.33C1881.52 120.47 1882.13 119.83 1883.21 120.34C1884.28 120.86 1885.49 122.06 1886.84 124.42C1888.19 126.78 1889.80 130.83 1891.28 134.53C1892.76 138.23 1894.31 142.58 1895.73 146.60C1897.14 150.63 1898.42 154.98 1899.76 158.68C1901.11 162.38 1902.46 165.90 1903.80 168.79C1905.15 171.68 1906.49 174.32 1907.84 176.03C1909.19 177.74 1910.53 178.75 1911.88 179.05C1913.23 179.35 1914.57 178.85 1915.92 177.85C1917.26 176.84 1918.34 174.70 1919.96 173.02C1921.57 171.33 1923.86 168.94 1925.61 167.73C1927.36 166.53 1928.84 165.77 1930.46 165.77C1932.07 165.77 1933.89 167.03 1935.30 167.73C1936.72 168.44 1937.66 168.87 1938.94 170.00C1940.22 171.13 1941.63 172.26 1942.98 174.52C1944.32 176.79 1945.67 180.69 1947.01 183.58C1948.36 186.47 1949.71 189.11 1951.05 191.88C1952.40 194.65 1953.75 197.67 1955.09 200.18C1956.44 202.70 1957.85 204.83 1959.13 206.97C1960.41 209.11 1961.22 210.46 1962.76 213.01C1964.31 215.56 1966.60 219.40 1968.42 222.29C1970.24 225.18 1971.85 227.84 1973.67 230.37C1975.49 232.89 1977.44 235.26 1979.32 237.46C1981.21 239.66 1983.16 241.73 1984.98 243.57C1986.79 245.41 1988.41 247.03 1990.23 248.48C1992.04 249.92 1994.26 251.24 1995.88 252.25C1997.50 253.25 1998.51 253.88 1999.92 254.51C2001.33 255.14 2003.62 255.77 2004.36 256.02" stroke="#4472c4" stroke-width="1.75" fill="none" stroke-linejoin="round" stroke-linecap="round"/>
<polyline points="152.70,457.12 158.36,455.99 164.82,453.20 185.82,453.20 191.07,455.69 209.24,455.99 214.49,455.69 225.40,454.63 229.43,450.56 233.47,448.75 237.51,448.14 240.74,448.97 244.78,447.09 250.03,444.67 254.47,442.79 258.51,444.67 262.55,441.80 266.59,438.94 270.63,433.35 275.07,431.09 279.11,419.77 283.15,408.45 287.19,397.13 291.22,392.60 294.05,380.53 298.09,360.16 300.92,349.59 302.94,326.20 306.97,327.33 311.82,305.83 315.05,315.64 319.90,297.52 323.13,299.03 328.78,280.92 339.28,281.68 342.11,242.44 344.53,219.80 348.17,189.62 351.80,147.36 355.84,166.22 364.32,150.38 366.34,161.70 369.17,185.84 371.99,203.95 375.22,241.68 378.05,267.34 380.88,291.49 384.11,277.91 387.74,304.32 391.78,322.80 396.63,316.39 401.07,327.33 404.71,283.19 408.74,302.05 413.19,328.46 417.23,327.71 421.26,319.41 425.30,319.41 428.94,322.80 432.17,349.59 433.38,355.63 441.05,351.86 445.09,354.87 449.13,369.21 453.17,372.98 457.61,390.34 462.05,391.47 465.69,397.51 471.34,408.83 480.63,410.34 485.07,419.77 491.94,428.07 498.80,429.20 502.84,436.37 507.69,435.24 510.51,428.07 514.96,410.71 520.61,406.94 525.86,393.36 531.52,390.34 537.17,392.60 541.61,401.66 546.46,409.58 550.09,419.02 554.53,427.32 561.40,428.07 565.84,431.09 571.90,439.39 577.55,440.90 581.59,444.45 587.25,449.95 594.11,450.56 598.15,455.69 602.19,456.07 606.23,454.03 611.07,451.61 619.96,451.99 628.04,451.01 633.69,452.97 640.56,455.09 648.63,452.97 654.29,454.63 659.54,450.56 663.57,447.54 669.23,447.09 674.88,445.43 682.96,445.88 689.83,447.92 696.69,449.20 703.56,451.01 711.63,451.01 720.11,452.60 726.58,451.01 732.23,450.56 737.88,447.54 743.94,445.43 748.79,448.14 754.04,449.58 759.69,449.95 766.56,453.65 773.42,455.69 780.29,455.24 787.15,451.61 794.02,449.95 800.88,447.54 804.92,442.41 808.96,437.28 814.62,440.37 819.87,442.41 824.71,440.37 827.94,433.81 832.38,434.26 836.42,437.73 841.67,434.26 847.33,433.35 853.38,426.71 858.23,432.22 865.10,436.37 871.96,434.26 880.04,434.26 884.08,431.09 888.52,420.98 893.77,409.96 897.81,399.40 901.44,398.19 904.67,400.15 909.52,393.36 913.56,395.62 917.19,405.06 920.83,404.68 925.27,419.02 929.31,415.24 934.16,412.98 937.79,425.05 942.64,430.56 945.87,426.56 951.12,430.33 953.94,428.83 958.79,430.33 962.42,428.07 965.66,422.03 970.50,413.73 978.17,414.26 983.02,407.09 986.25,403.47 989.89,406.72 994.33,398.94 997.96,402.04 1002.00,403.47 1006.04,400.98 1010.08,407.55 1014.52,414.26 1017.75,413.28 1020.98,419.39 1025.83,427.54 1030.68,424.45 1034.71,413.28 1039.16,401.66 1042.39,400.98 1046.02,387.77 1050.06,370.72 1054.91,349.59 1058.14,351.86 1062.18,351.10 1067.83,360.16 1071.46,357.89 1075.91,370.72 1081.56,386.57 1086.81,400.15 1092.46,407.70 1097.71,407.09 1101.35,395.92 1106.20,393.89 1110.23,395.92 1115.48,389.81 1121.14,389.36 1128.00,394.26 1135.27,391.85 1139.72,387.47 1144.16,395.62 1148.20,400.53 1155.87,399.40 1159.91,408.90 1163.95,417.81 1167.99,422.94 1172.02,420.75 1176.87,424.45 1181.72,427.69 1187.77,427.09 1192.62,433.35 1196.66,437.43 1202.72,439.16 1208.77,445.12 1211.60,444.37 1216.45,447.31 1220.49,450.26 1226.54,451.01 1232.60,452.07 1240.68,452.44 1244.31,451.77 1248.35,453.50 1253.20,455.76 1260.47,455.76 1265.31,455.01 1270.16,455.46 1276.22,455.76 1280.26,452.44 1284.29,450.71 1288.33,448.82 1293.18,443.62 1297.22,441.43 1301.26,436.22 1305.29,433.35 1308.93,428.07 1312.97,427.32 1317.01,420.75 1321.04,417.81 1325.08,414.79 1329.53,417.05 1332.76,405.21 1336.79,397.13 1340.03,387.47 1344.87,376.00 1349.72,370.42 1352.95,366.95 1356.18,357.89 1361.83,350.72 1367.89,345.82 1373.55,335.25 1377.58,329.22 1381.62,320.16 1386.06,324.24 1390.10,326.20 1394.55,317.14 1399.80,325.44 1406.26,332.24 1413.12,338.05 1417.97,335.25 1425.24,338.27 1430.89,326.20 1436.55,323.94 1442.20,321.22 1446.64,307.56 1450.68,316.09 1455.12,315.11 1459.16,327.26 1462.39,327.71 1466.83,333.75 1470.87,333.37 1475.32,347.55 1478.95,344.31 1482.99,351.86 1486.62,359.40 1491.07,365.06 1498.74,368.16 1502.37,379.25 1507.22,388.38 1510.85,387.02 1515.70,390.34 1520.14,387.02 1523.37,392.60 1527.82,394.49 1531.45,385.59 1535.49,388.38 1539.53,393.36 1543.57,395.92 1547.20,393.06 1551.64,393.74 1555.28,395.92 1560.12,404.68 1563.76,402.57 1567.80,404.38 1571.84,405.43 1574.66,416.00 1577.89,418.11 1580.72,416.00 1583.55,412.45 1588.39,415.24 1596.07,412.45 1600.11,413.81 1604.55,409.58 1608.18,409.58 1612.63,414.79 1616.66,409.58 1620.30,417.36 1624.34,412.45 1628.38,402.26 1632.82,404.38 1636.45,405.43 1641.30,402.57 1648.97,399.70 1652.61,400.68 1656.65,407.47 1660.28,402.57 1664.32,393.66 1668.76,395.47 1672.80,400.38 1676.84,393.36 1680.88,384.15 1684.51,385.59 1688.95,389.13 1692.59,394.11 1697.03,379.25 1701.07,369.74 1705.11,373.74 1709.15,379.93 1713.99,375.70 1717.63,362.57 1721.26,362.57 1725.30,367.70 1728.93,368.61 1732.57,359.40 1737.82,358.65 1741.86,357.89 1745.90,362.80 1749.53,366.95 1753.17,357.14 1757.20,345.82 1760.84,342.50 1764.47,330.35 1768.11,310.35 1771.34,290.73 1774.17,272.62 1777.80,259.79 1780.22,256.78 1783.86,238.21 1786.69,225.84 1789.92,217.91 1793.55,221.61 1796.78,221.31 1799.61,228.10 1802.84,237.16 1805.67,240.18 1810.11,225.84 1813.74,247.34 1817.38,238.67 1821.42,234.14 1825.46,219.80 1827.88,208.48 1830.71,197.92 1833.94,187.35 1837.97,194.90 1842.42,183.88 1845.65,182.83 1850.49,168.79 1854.53,170.37 1858.57,171.81 1862.61,160.94 1867.05,144.57 1871.09,124.42 1875.13,127.44 1878.76,122.76 1883.21,128.49 1887.24,138.53 1891.28,146.60 1894.92,158.68 1898.96,179.81 1902.99,152.64 1905.82,167.73 1909.05,174.83 1913.49,169.77 1919.15,158.07 1922.78,160.72 1927.63,156.64 1931.26,179.81 1934.49,171.81 1938.53,168.79 1942.98,170.75 1946.61,181.32 1951.05,196.41 1955.09,200.18 1958.73,205.46 1963.37,194.90 1968.01,217.91 1972.05,213.01" stroke="#ed7d31" stroke-width="1.75" fill="none" stroke-linejoin="round" stroke-linecap="round"/>
<rect x="213.38" y="16.8" width="29.86" height="10" fill="#a6a6a6"/>
<path d="M212.70 50.5H243.24" stroke="#4472c4" stroke-width="1.55" fill="none"/>
<path d="M1201.24 21.7H1235.14" stroke="#ff0000" stroke-width="3.3" stroke-linecap="round" stroke-dasharray="10.75 14.65" fill="none" clip-path="url(#lc)"/>
<path d="M1200.81 50.5H1232.30" stroke="#ed7d31" stroke-width="1.5" fill="none"/>
</g>
<defs><clipPath id="pc"><rect x="152.03" y="80.2" width="1853.92" height="377.3"/></clipPath><clipPath id="lc"><rect x="1189.19" y="10" width="44.19" height="24"/></clipPath></defs>
<text transform="translate(99.30,464.08) scale(0.705,1)" font-family="Liberation Sans, sans-serif" font-size="19.5" fill="#484848" text-anchor="end">0</text>
<text transform="translate(99.30,426.35) scale(0.705,1)" font-family="Liberation Sans, sans-serif" font-size="19.5" fill="#484848" text-anchor="end">5</text>
<text transform="translate(99.30,388.62) scale(0.705,1)" font-family="Liberation Sans, sans-serif" font-size="19.5" fill="#484848" text-anchor="end">10</text>
<text transform="translate(99.30,350.89) scale(0.705,1)" font-family="Liberation Sans, sans-serif" font-size="19.5" fill="#484848" text-anchor="end">15</text>
<text transform="translate(99.30,313.16) scale(0.705,1)" font-family="Liberation Sans, sans-serif" font-size="19.5" fill="#484848" text-anchor="end">20</text>
<text transform="translate(99.30,275.43) scale(0.705,1)" font-family="Liberation Sans, sans-serif" font-size="19.5" fill="#484848" text-anchor="end">25</text>
<text transform="translate(99.30,237.70) scale(0.705,1)" font-family="Liberation Sans, sans-serif" font-size="19.5" fill="#484848" text-anchor="end">30</text>
<text transform="translate(99.30,199.97) scale(0.705,1)" font-family="Liberation Sans, sans-serif" font-size="19.5" fill="#484848" text-anchor="end">35</text>
<text transform="translate(99.30,162.24) scale(0.705,1)" font-family="Liberation Sans, sans-serif" font-size="19.5" fill="#484848" text-anchor="end">40</text>
<text transform="translate(99.30,124.51) scale(0.705,1)" font-family="Liberation Sans, sans-serif" font-size="19.5" fill="#484848" text-anchor="end">45</text>
<text transform="translate(99.30,86.78) scale(0.705,1)" font-family="Liberation Sans, sans-serif" font-size="19.5" fill="#484848" text-anchor="end">50</text>
<text transform="translate(1498.00,464.08) scale(0.7,1)" font-family="Liberation Sans, sans-serif" font-size="19.5" fill="#484848" text-anchor="start">0</text>
<text transform="translate(1498.00,426.35) scale(0.7,1)" font-family="Liberation Sans, sans-serif" font-size="19.5" fill="#484848" text-anchor="start">10</text>
<text transform="translate(1498.00,388.62) scale(0.7,1)" font-family="Liberation Sans, sans-serif" font-size="19.5" fill="#484848" text-anchor="start">20</text>
<text transform="translate(1498.00,350.89) scale(0.7,1)" font-family="Liberation Sans, sans-serif" font-size="19.5" fill="#484848" text-anchor="start">30</text>
<text transform="translate(1498.00,313.16) scale(0.7,1)" font-family="Liberation Sans, sans-serif" font-size="19.5" fill="#484848" text-anchor="start">40</text>
<text transform="translate(1498.00,275.43) scale(0.7,1)" font-family="Liberation Sans, sans-serif" font-size="19.5" fill="#484848" text-anchor="start">50</text>
<text transform="translate(1498.00,237.70) scale(0.7,1)" font-family="Liberation Sans, sans-serif" font-size="19.5" fill="#484848" text-anchor="start">60</text>
<text transform="translate(1498.00,199.97) scale(0.7,1)" font-family="Liberation Sans, sans-serif" font-size="19.5" fill="#484848" text-anchor="start">70</text>
<text transform="translate(1498.00,162.24) scale(0.7,1)" font-family="Liberation Sans, sans-serif" font-size="19.5" fill="#484848" text-anchor="start">80</text>
<text transform="translate(1498.00,124.51) scale(0.7,1)" font-family="Liberation Sans, sans-serif" font-size="19.5" fill="#484848" text-anchor="start">90</text>
<text transform="translate(1498.00,86.78) scale(0.7,1)" font-family="Liberation Sans, sans-serif" font-size="19.5" fill="#484848" text-anchor="start">100</text>
<text transform="translate(118.58,467.80) scale(0.744,1) rotate(-90)" font-family="Liberation Sans, sans-serif" font-size="13.85" fill="#484848" text-anchor="end">01-10-20</text>
<text transform="translate(139.51,467.80) scale(0.744,1) rotate(-90)" font-family="Liberation Sans, sans-serif" font-size="13.85" fill="#484848" text-anchor="end">08-10-20</text>
<text transform="translate(160.43,467.80) scale(0.744,1) rotate(-90)" font-family="Liberation Sans, sans-serif" font-size="13.85" fill="#484848" text-anchor="end">15-10-20</text>
<text transform="translate(181.35,467.80) scale(0.744,1) rotate(-90)" font-family="Liberation Sans, sans-serif" font-size="13.85" fill="#484848" text-anchor="end">22-10-20</text>
<text transform="translate(202.27,467.80) scale(0.744,1) rotate(-90)" font-family="Liberation Sans, sans-serif" font-size="13.85" fill="#484848" text-anchor="end">29-10-20</text>
<text transform="translate(223.19,467.80) scale(0.744,1) rotate(-90)" font-family="Liberation Sans, sans-serif" font-size="13.85" fill="#484848" text-anchor="end">05-11-20</text>
<text transform="translate(244.12,467.80) scale(0.744,1) rotate(-90)" font-family="Liberation Sans, sans-serif" font-size="13.85" fill="#484848" text-anchor="end">12-11-20</text>
<text transform="translate(265.04,467.80) scale(0.744,1) rotate(-90)" font-family="Liberation Sans, sans-serif" font-size="13.85" fill="#484848" text-anchor="end">19-11-20</text>
<text transform="translate(285.96,467.80) scale(0.744,1) rotate(-90)" font-family="Liberation Sans, sans-serif" font-size="13.85" fill="#484848" text-anchor="end">26-11-20</text>
<text transform="translate(306.88,467.80) scale(0.744,1) rotate(-90)" font-family="Liberation Sans, sans-serif" font-size="13.85" fill="#484848" text-anchor="end">03-12-20</text>
<text transform="translate(327.81,467.80) scale(0.744,1) rotate(-90)" font-family="Liberation Sans, sans-serif" font-size="13.85" fill="#484848" text-anchor="end">10-12-20</text>
<text transform="translate(348.73,467.80) scale(0.744,1) rotate(-90)" font-family="Liberation Sans, sans-serif" font-size="13.85" fill="#484848" text-anchor="end">17-12-20</text>
<text transform="translate(369.65,467.80) scale(0.744,1) rotate(-90)" font-family="Liberation Sans, sans-serif" font-size="13.85" fill="#484848" text-anchor="end">24-12-20</text>
<text transform="translate(390.57,467.80) scale(0.744,1) rotate(-90)" font-family="Liberation Sans, sans-serif" font-size="13.85" fill="#484848" text-anchor="end">31-12-20</text>
<text transform="translate(411.49,467.80) scale(0.744,1) rotate(-90)" font-family="Liberation Sans, sans-serif" font-size="13.85" fill="#484848" text-anchor="end">07-01-21</text>
<text transform="translate(432.42,467.80) scale(0.744,1) rotate(-90)" font-family="Liberation Sans, sans-serif" font-size="13.85" fill="#484848" text-anchor="end">14-01-21</text>
<text transform="translate(453.34,467.80) scale(0.744,1) rotate(-90)" font-family="Liberation Sans, sans-serif" font-size="13.85" fill="#484848" text-anchor="end">21-01-21</text>
<text transform="translate(474.26,467.80) scale(0.744,1) rotate(-90)" font-family="Liberation Sans, sans-serif" font-size="13.85" fill="#484848" text-anchor="end">28-01-21</text>
<text transform="translate(495.18,467.80) scale(0.744,1) rotate(-90)" font-family="Liberation Sans, sans-serif" font-size="13.85" fill="#484848" text-anchor="end">04-02-21</text>
<text transform="translate(516.11,467.80) scale(0.744,1) rotate(-90)" font-family="Liberation Sans, sans-serif" font-size="13.85" fill="#484848" text-anchor="end">11-02-21</text>
<text transform="translate(537.03,467.80) scale(0.744,1) rotate(-90)" font-family="Liberation Sans, sans-serif" font-size="13.85" fill="#484848" text-anchor="end">18-02-21</text>
<text transform="translate(557.95,467.80) scale(0.744,1) rotate(-90)" font-family="Liberation Sans, sans-serif" font-size="13.85" fill="#484848" text-anchor="end">25-02-21</text>
<text transform="translate(578.87,467.80) scale(0.744,1) rotate(-90)" font-family="Liberation Sans, sans-serif" font-size="13.85" fill="#484848" text-anchor="end">04-03-21</text>
<text transform="translate(599.79,467.80) scale(0.744,1) rotate(-90)" font-family="Liberation Sans, sans-serif" font-size="13.85" fill="#484848" text-anchor="end">11-03-21</text>
<text transform="translate(620.72,467.80) scale(0.744,1) rotate(-90)" font-family="Liberation Sans, sans-serif" font-size="13.85" fill="#484848" text-anchor="end">18-03-21</text>
<text transform="translate(641.64,467.80) scale(0.744,1) rotate(-90)" font-family="Liberation Sans, sans-serif" font-size="13.85" fill="#484848" text-anchor="end">25-03-21</text>
<text transform="translate(662.56,467.80) scale(0.744,1) rotate(-90)" font-family="Liberation Sans, sans-serif" font-size="13.85" fill="#484848" text-anchor="end">01-04-21</text>
<text transform="translate(683.48,467.80) scale(0.744,1) rotate(-90)" font-family="Liberation Sans, sans-serif" font-size="13.85" fill="#484848" text-anchor="end">08-04-21</text>
<text transform="translate(704.41,467.80) scale(0.744,1) rotate(-90)" font-family="Liberation Sans, sans-serif" font-size="13.85" fill="#484848" text-anchor="end">15-04-21</text>
<text transform="translate(725.33,467.80) scale(0.744,1) rotate(-90)" font-family="Liberation Sans, sans-serif" font-size="13.85" fill="#484848" text-anchor="end">22-04-21</text>
<text transform="translate(746.25,467.80) scale(0.744,1) rotate(-90)" font-family="Liberation Sans, sans-serif" font-size="13.85" fill="#484848" text-anchor="end">29-04-21</text>
<text transform="translate(767.17,467.80) scale(0.744,1) rotate(-90)" font-family="Liberation Sans, sans-serif" font-size="13.85" fill="#484848" text-anchor="end">06-05-21</text>
<text transform="translate(788.09,467.80) scale(0.744,1) rotate(-90)" font-family="Liberation Sans, sans-serif" font-size="13.85" fill="#484848" text-anchor="end">13-05-21</text>
<text transform="translate(809.02,467.80) scale(0.744,1) rotate(-90)" font-family="Liberation Sans, sans-serif" font-size="13.85" fill="#484848" text-anchor="end">20-05-21</text>
<text transform="translate(829.94,467.80) scale(0.744,1) rotate(-90)" font-family="Liberation Sans, sans-serif" font-size="13.85" fill="#484848" text-anchor="end">27-05-21</text>
<text transform="translate(850.86,467.80) scale(0.744,1) rotate(-90)" font-family="Liberation Sans, sans-serif" font-size="13.85" fill="#484848" text-anchor="end">03-06-21</text>
<text transform="translate(871.78,467.80) scale(0.744,1) rotate(-90)" font-family="Liberation Sans, sans-serif" font-size="13.85" fill="#484848" text-anchor="end">10-06-21</text>
<text transform="translate(892.71,467.80) scale(0.744,1) rotate(-90)" font-family="Liberation Sans, sans-serif" font-size="13.85" fill="#484848" text-anchor="end">17-06-21</text>
<text transform="translate(913.63,467.80) scale(0.744,1) rotate(-90)" font-family="Liberation Sans, sans-serif" font-size="13.85" fill="#484848" text-anchor="end">24-06-21</text>
<text transform="translate(934.55,467.80) scale(0.744,1) rotate(-90)" font-family="Liberation Sans, sans-serif" font-size="13.85" fill="#484848" text-anchor="end">01-07-21</text>
<text transform="translate(955.47,467.80) scale(0.744,1) rotate(-90)" font-family="Liberation Sans, sans-serif" font-size="13.85" fill="#484848" text-anchor="end">08-07-21</text>
<text transform="translate(976.39,467.80) scale(0.744,1) rotate(-90)" font-family="Liberation Sans, sans-serif" font-size="13.85" fill="#484848" text-anchor="end">15-07-21</text>
<text transform="translate(997.32,467.80) scale(0.744,1) rotate(-90)" font-family="Liberation Sans, sans-serif" font-size="13.85" fill="#484848" text-anchor="end">22-07-21</text>
<text transform="translate(1018.24,467.80) scale(0.744,1) rotate(-90)" font-family="Liberation Sans, sans-serif" font-size="13.85" fill="#484848" text-anchor="end">29-07-21</text>
<text transform="translate(1039.16,467.80) scale(0.744,1) rotate(-90)" font-family="Liberation Sans, sans-serif" font-size="13.85" fill="#484848" text-anchor="end">05-08-21</text>
<text transform="translate(1060.08,467.80) scale(0.744,1) rotate(-90)" font-family="Liberation Sans, sans-serif" font-size="13.85" fill="#484848" text-anchor="end">12-08-21</text>
<text transform="translate(1081.01,467.80) scale(0.744,1) rotate(-90)" font-family="Liberation Sans, sans-serif" font-size="13.85" fill="#484848" text-anchor="end">19-08-21</text>
<text transform="translate(1101.93,467.80) scale(0.744,1) rotate(-90)" font-family="Liberation Sans, sans-serif" font-size="13.85" fill="#484848" text-anchor="end">26-08-21</text>
<text transform="translate(1122.85,467.80) scale(0.744,1) rotate(-90)" font-family="Liberation Sans, sans-serif" font-size="13.85" fill="#484848" text-anchor="end">02-09-21</text>
<text transform="translate(1143.77,467.80) scale(0.744,1) rotate(-90)" font-family="Liberation Sans, sans-serif" font-size="13.85" fill="#484848" text-anchor="end">09-09-21</text>
<text transform="translate(1164.69,467.80) scale(0.744,1) rotate(-90)" font-family="Liberation Sans, sans-serif" font-size="13.85" fill="#484848" text-anchor="end">16-09-21</text>
<text transform="translate(1185.62,467.80) scale(0.744,1) rotate(-90)" font-family="Liberation Sans, sans-serif" font-size="13.85" fill="#484848" text-anchor="end">23-09-21</text>
<text transform="translate(1206.54,467.80) scale(0.744,1) rotate(-90)" font-family="Liberation Sans, sans-serif" font-size="13.85" fill="#484848" text-anchor="end">30-09-21</text>
<text transform="translate(1227.46,467.80) scale(0.744,1) rotate(-90)" font-family="Liberation Sans, sans-serif" font-size="13.85" fill="#484848" text-anchor="end">07-10-21</text>
<text transform="translate(1248.38,467.80) scale(0.744,1) rotate(-90)" font-family="Liberation Sans, sans-serif" font-size="13.85" fill="#484848" text-anchor="end">14-10-21</text>
<text transform="translate(1269.31,467.80) scale(0.744,1) rotate(-90)" font-family="Liberation Sans, sans-serif" font-size="13.85" fill="#484848" text-anchor="end">21-10-21</text>
<text transform="translate(1290.23,467.80) scale(0.744,1) rotate(-90)" font-family="Liberation Sans, sans-serif" font-size="13.85" fill="#484848" text-anchor="end">28-10-21</text>
<text transform="translate(1311.15,467.80) scale(0.744,1) rotate(-90)" font-family="Liberation Sans, sans-serif" font-size="13.85" fill="#484848" text-anchor="end">04-11-21</text>
<text transform="translate(1332.07,467.80) scale(0.744,1) rotate(-90)" font-family="Liberation Sans, sans-serif" font-size="13.85" fill="#484848" text-anchor="end">11-11-21</text>
<text transform="translate(1352.99,467.80) scale(0.744,1) rotate(-90)" font-family="Liberation Sans, sans-serif" font-size="13.85" fill="#484848" text-anchor="end">18-11-21</text>
<text transform="translate(1373.92,467.80) scale(0.744,1) rotate(-90)" font-family="Liberation Sans, sans-serif" font-size="13.85" fill="#484848" text-anchor="end">25-11-21</text>
<text transform="translate(1394.84,467.80) scale(0.744,1) rotate(-90)" font-family="Liberation Sans, sans-serif" font-size="13.85" fill="#484848" text-anchor="end">02-12-21</text>
<text transform="translate(1415.76,467.80) scale(0.744,1) rotate(-90)" font-family="Liberation Sans, sans-serif" font-size="13.85" fill="#484848" text-anchor="end">09-12-21</text>
<text transform="translate(1436.68,467.80) scale(0.744,1) rotate(-90)" font-family="Liberation Sans, sans-serif" font-size="13.85" fill="#484848" text-anchor="end">16-12-21</text>
<text transform="translate(1457.61,467.80) scale(0.744,1) rotate(-90)" font-family="Liberation Sans, sans-serif" font-size="13.85" fill="#484848" text-anchor="end">23-12-21</text>
<text transform="translate(1478.53,467.80) scale(0.744,1) rotate(-90)" font-family="Liberation Sans, sans-serif" font-size="13.85" fill="#484848" text-anchor="end">30-12-21</text>
<text transform="translate(15.10,248.90) scale(0.754,1) rotate(-90)" font-family="Liberation Sans, sans-serif" font-size="17.8" fill="#484848" text-anchor="middle">Ρυθμός μεταβολής κρουσμάτων</text>
<text transform="translate(1558.90,349.40) scale(0.754,1) rotate(-90)" font-family="Liberation Sans, sans-serif" font-size="17.8" fill="#484848" text-anchor="start">Κρούσματα ανά</text>
<text transform="translate(1558.90,151.80) scale(0.76,1) rotate(-90)" font-family="Liberation Sans, sans-serif" font-size="19.3" fill="#484848" text-anchor="end">100.000</text>
<text transform="translate(181.90,27.60) scale(0.726,1)" font-family="Liberation Sans, sans-serif" font-size="18.67" fill="#484848" text-anchor="start">Κρούσματα ανά 100.000 (Κυλιόμενος μέσος όρος 7 ημερών)</text>
<text transform="translate(181.90,56.60) scale(0.717,1)" font-family="Liberation Sans, sans-serif" font-size="18.67" fill="#484848" text-anchor="start">Ρυθμός μεταβολής κρουσμάτων μοντέλου (7days moving average)</text>
<text transform="translate(915.60,27.60) scale(0.7255,1)" font-family="Liberation Sans, sans-serif" font-size="18.67" fill="#484848" text-anchor="start">Όριο μετάβασης σε κόκκινη περιοχή</text>
<text transform="translate(913.90,56.60) scale(0.7145,1)" font-family="Liberation Sans, sans-serif" font-size="18.67" fill="#484848" text-anchor="start">Ρυθμός μεταβολής επιβεβαιωμένων κρουσμάτων (7days moving average)</text>
</svg>
</body></html>
